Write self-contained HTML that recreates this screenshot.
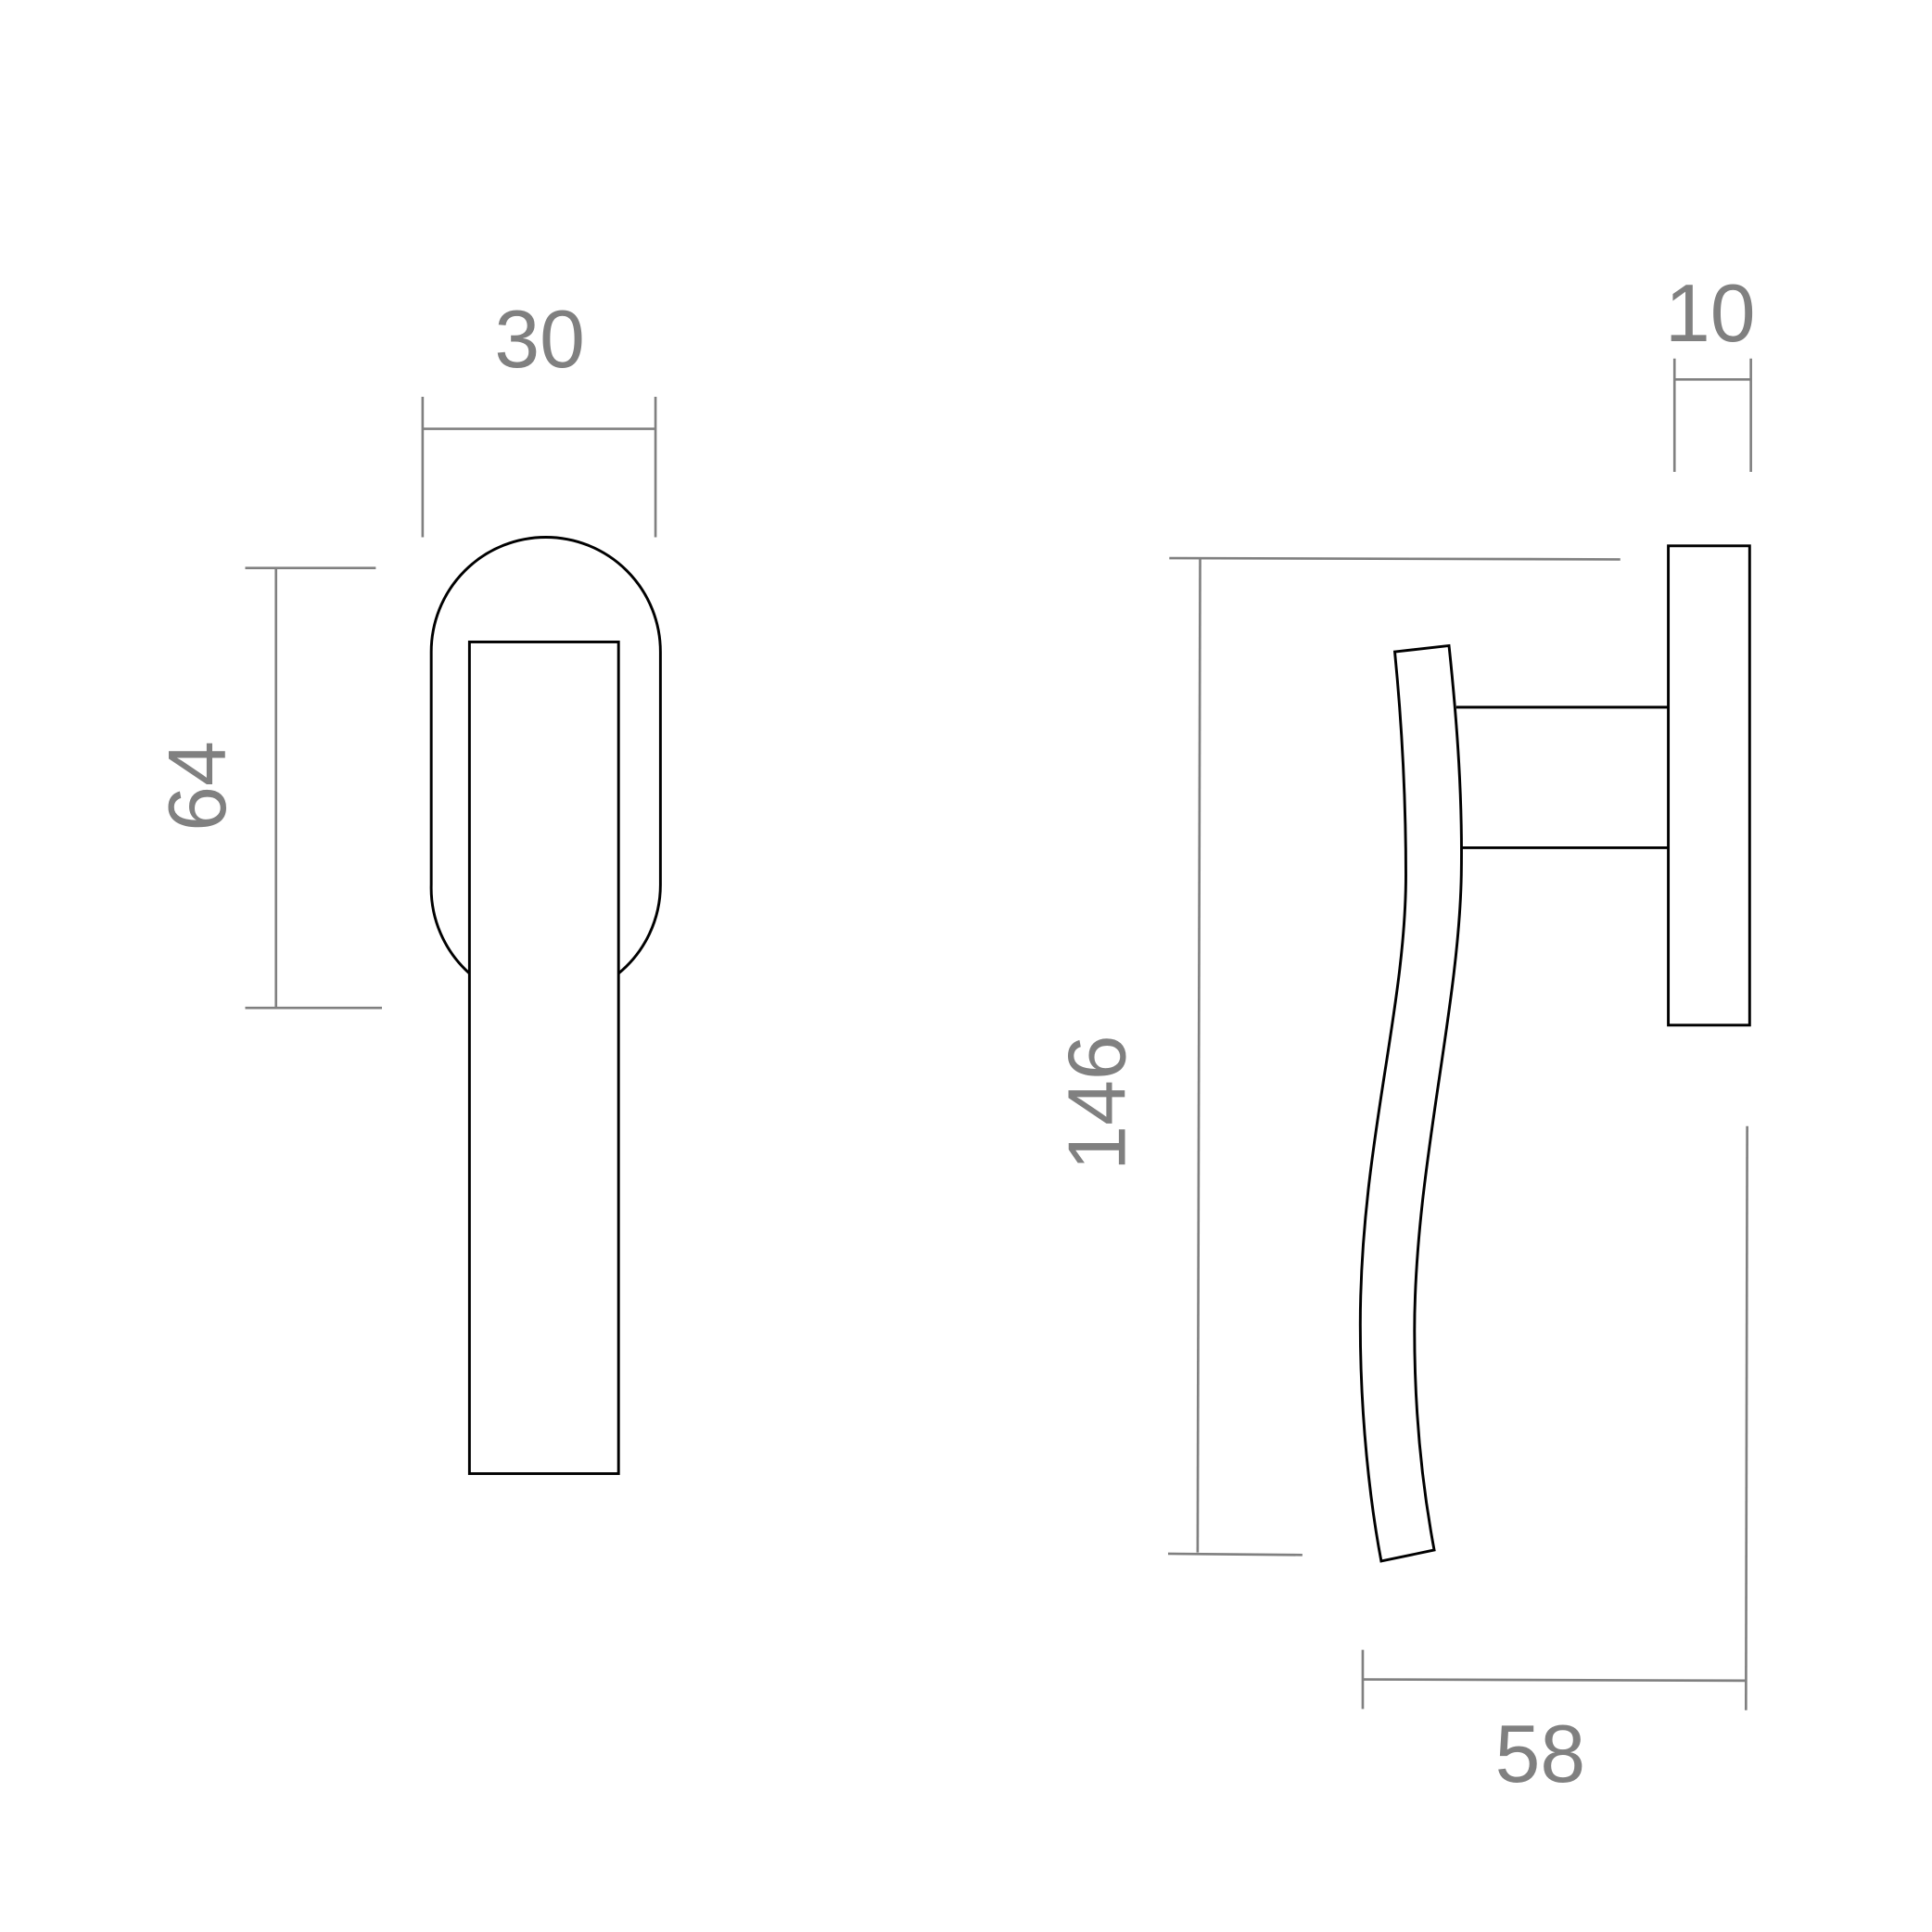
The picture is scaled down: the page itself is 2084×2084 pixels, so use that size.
<!DOCTYPE html>
<html><head><meta charset="utf-8"><style>
html,body{margin:0;padding:0;background:#fff;}
svg{display:block;}
text{font-family:"Liberation Sans",sans-serif;fill:#808080;font-size:66px;}
</style></head><body>
<svg width="2084" height="2084" viewBox="0 0 1568 1568" xmlns="http://www.w3.org/2000/svg">
<g fill="none" stroke="#000" stroke-width="2.2">
<path d="M381 790 A93 93 0 0 1 350 718 L350 529 A93 93 0 0 1 443 436 A93 93 0 0 1 536 529 L536 718 A93 93 0 0 1 502 790"/>
<rect x="381" y="521" width="121" height="675"/>
<rect x="1354" y="443" width="66" height="389"/>
<line x1="1182" y1="574" x2="1354" y2="574"/>
<line x1="1186" y1="688" x2="1354" y2="688"/>
<path d="M1132 529 L1176 524 C1183 590 1187 650 1186 710 C1184 820 1148 950 1148 1080 C1148 1150 1155 1210 1164 1258 L1121 1267 C1112 1220 1104 1150 1104 1075 C1104 930 1141 820 1141 710 C1141 650 1138 590 1132 529 Z"/>
</g>
<g stroke="#808080" stroke-width="2">
<line x1="343" y1="348" x2="532" y2="348"/>
<line x1="343" y1="322" x2="343" y2="436"/>
<line x1="532" y1="322" x2="532" y2="436"/>
<line x1="224" y1="461" x2="224" y2="818"/>
<line x1="199" y1="461" x2="305" y2="461"/>
<line x1="199" y1="818" x2="310" y2="818"/>
<line x1="974" y1="453" x2="972" y2="1260"/>
<line x1="949" y1="453" x2="1315" y2="454"/>
<line x1="948" y1="1261" x2="1057" y2="1262"/>
<line x1="1359" y1="291" x2="1359" y2="383"/>
<line x1="1421" y1="291" x2="1421" y2="383"/>
<line x1="1359" y1="308" x2="1421" y2="308"/>
<line x1="1106" y1="1363" x2="1417" y2="1364"/>
<line x1="1106" y1="1339" x2="1106" y2="1387"/>
<line x1="1418" y1="914" x2="1417" y2="1388"/>
</g>
<text x="438" y="298" text-anchor="middle">30</text>
<text transform="translate(183 638) rotate(-90)" text-anchor="middle">64</text>
<text transform="translate(913 895) rotate(-90)" text-anchor="middle">146</text>
<text x="1388" y="277" text-anchor="middle">10</text>
<text x="1250" y="1446" text-anchor="middle">58</text>
</svg>
</body></html>
